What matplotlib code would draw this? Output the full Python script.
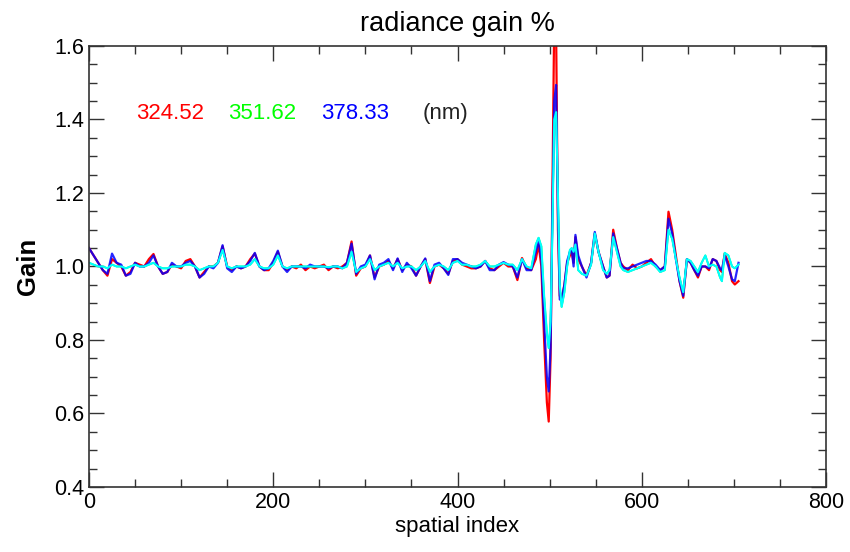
import matplotlib
matplotlib.use("Agg")
import matplotlib.pyplot as plt
from matplotlib.ticker import MultipleLocator

# spatial index samples
spatial_idx = [0, 5, 10, 15, 20, 25, 30, 35, 40, 45, 50, 55, 60, 65, 70, 75, 80, 85, 90, 95,
               100, 105, 110, 115, 120, 125, 130, 135, 140, 145, 150, 155, 160, 165, 170, 175,
               180, 185, 190, 195, 200, 205, 210, 215, 220, 225, 230, 235, 240, 245, 250, 255,
               260, 265, 270, 275, 280, 285, 290, 295, 300, 305, 310, 315, 320, 325, 330, 335,
               340, 345, 350, 355, 360, 365, 370, 375, 380, 385, 390, 395, 400, 405, 410, 415,
               420, 425, 430, 435, 440, 445, 450, 455, 460, 465, 470, 475, 480, 485, 488, 491,
               494, 497, 499, 501, 503, 505, 507, 509, 511, 513, 516, 519, 522, 524, 526, 528,
               531, 535, 540, 545, 549, 553, 558, 562, 565, 569, 573, 577, 580, 585, 590, 595,
               600, 605, 610, 615, 620, 625, 629, 633, 637, 641, 645, 649, 653, 657, 661, 665,
               669, 673, 677, 681, 685, 687, 690, 694, 698, 701, 705]

gain_324 = [1.05, 1.03, 1.01, 0.99, 0.975, 1.02, 1.01, 1.0, 0.975, 0.985, 1.01, 1.005, 1.0, 1.02,
            1.034, 1.0, 0.98, 0.985, 1.005, 1.0, 0.995, 1.015, 1.02, 1.0, 0.97, 0.985, 1.0, 1.0,
            1.01, 1.055, 1.0, 0.99, 1.0, 0.995, 1.0, 1.02, 1.035, 1.0, 0.99, 0.99, 1.01, 1.04,
            1.0, 0.99, 1.0, 0.995, 1.005, 0.99, 1.0, 0.995, 1.0, 1.005, 0.99, 1.0, 0.995, 1.0,
            1.01, 1.068, 0.975, 0.995, 1.0, 1.03, 0.97, 1.0, 1.005, 1.015, 0.995, 1.02, 0.99,
            1.005, 1.0, 0.975, 1.0, 1.02, 0.955, 1.0, 1.005, 0.995, 0.98, 1.015, 1.02, 1.005,
            1.0, 0.995, 0.995, 1.0, 1.015, 0.995, 0.99, 1.0, 1.01, 1.0, 1.0, 0.963, 1.023,
            0.995, 0.99, 1.02, 1.06, 1.0, 0.80, 0.63, 0.578, 0.75, 1.2, 1.68, 1.65, 1.1, 0.92,
            0.91, 0.95, 1.01, 1.03, 1.04, 1.01, 1.08, 1.02, 1.0, 0.975, 1.01, 1.09, 1.04, 1.0,
            0.97, 0.975, 1.10, 1.05, 1.01, 1.0, 0.99, 1.005, 0.995, 1.0, 1.01, 1.02, 1.0, 0.99,
            1.0, 1.149, 1.10, 1.03, 0.96, 0.915, 1.02, 1.01, 0.99, 0.97, 1.0, 1.0, 0.99, 1.02,
            1.015, 0.99, 0.985, 1.035, 1.01, 0.96, 0.951, 0.96]

gain_351 = [1.01, 1.005, 1.0, 1.0, 0.995, 1.005, 1.0, 1.0, 0.995, 1.0, 1.005, 1.0, 1.0, 1.005,
            1.01, 1.0, 0.995, 0.995, 1.0, 1.0, 1.0, 1.005, 1.005, 1.0, 0.99, 0.995, 1.0, 1.0,
            1.01, 1.045, 1.0, 0.995, 1.0, 1.0, 1.0, 1.005, 1.02, 1.0, 0.995, 0.995, 1.005, 1.03,
            1.0, 0.995, 1.0, 1.0, 1.0, 1.0, 1.0, 1.0, 1.0, 1.0, 0.998, 1.0, 1.0, 0.995,
            1.0, 1.04, 0.985, 0.995, 1.0, 1.02, 0.99, 1.0, 1.005, 1.01, 1.0, 1.01, 0.995,
            1.0, 1.0, 0.99, 1.0, 1.015, 0.985, 1.0, 1.005, 1.0, 0.99, 1.01, 1.015, 1.005,
            1.005, 1.0, 1.0, 1.005, 1.015, 1.0, 1.0, 1.005, 1.01, 1.005, 1.005, 0.99, 1.02,
            1.0, 0.995, 1.06, 1.078, 1.055, 0.92, 0.82, 0.778, 0.85, 1.1, 1.40, 1.42, 1.2, 0.95,
            0.89, 0.93, 1.0, 1.045, 1.05, 1.04, 1.06, 0.99, 0.98, 0.975, 1.005, 1.09, 1.04, 0.99,
            0.98, 0.99, 1.08, 1.04, 1.0, 0.99, 0.985, 0.99, 0.995, 1.0, 1.005, 1.01, 1.0, 0.985,
            0.99, 1.10, 1.075, 1.02, 0.97, 0.93, 1.02, 1.015, 1.0, 0.985, 1.01, 1.03, 1.0, 1.005,
            1.0, 0.97, 0.96, 1.037, 1.03, 1.0, 0.995, 1.005]

gain_378 = [1.05, 1.03, 1.01, 0.99, 0.98, 1.035, 1.01, 1.005, 0.975, 0.98, 1.01, 1.0, 1.0, 1.01,
            1.03, 1.0, 0.98, 0.985, 1.01, 1.0, 1.0, 1.01, 1.015, 1.0, 0.97, 0.98, 1.0, 0.995,
            1.01, 1.058, 0.995, 0.985, 1.0, 0.995, 1.0, 1.015, 1.037, 1.0, 0.99, 0.995, 1.015,
            1.043, 1.0, 0.985, 1.0, 1.0, 1.0, 0.995, 1.005, 1.0, 1.0, 1.0, 0.995, 1.0, 1.0,
            0.995, 1.01, 1.062, 0.98, 1.0, 1.005, 1.03, 0.965, 1.005, 1.01, 1.02, 0.99, 1.022,
            0.985, 1.01, 0.995, 0.975, 1.0, 1.022, 0.96, 1.005, 1.01, 0.995, 0.977, 1.02, 1.02,
            1.01, 1.005, 1.0, 0.995, 1.0, 1.015, 0.99, 0.99, 1.005, 1.012, 1.005, 1.0, 0.97,
            1.02, 0.99, 0.99, 1.04, 1.07, 1.02, 0.85, 0.70, 0.66, 0.78, 1.15, 1.45, 1.494, 1.15,
            0.91, 0.91, 0.95, 1.015, 1.04, 1.044, 1.0, 1.086, 1.03, 1.0, 0.97, 1.01, 1.094, 1.04,
            1.0, 0.97, 0.975, 1.09, 1.05, 1.01, 0.995, 0.995, 1.0, 1.005, 1.01, 1.015, 1.015,
            1.005, 0.99, 1.0, 1.13, 1.09, 1.02, 0.96, 0.92, 1.02, 1.01, 0.99, 0.975, 1.0, 1.0,
            0.995, 1.02, 1.015, 0.995, 0.99, 1.03, 1.0, 0.965, 0.96, 1.01]

gain_cyan = [1.01, 1.005, 1.0, 1.0, 0.995, 1.005, 1.0, 1.0, 0.995, 1.0, 1.005, 1.0, 1.0, 1.005,
             1.01, 1.0, 0.995, 0.995, 1.0, 1.0, 1.0, 1.005, 1.005, 1.0, 0.99, 0.995, 1.0, 1.0,
             1.01, 1.045, 1.0, 0.995, 1.0, 1.0, 1.0, 1.005, 1.02, 1.0, 0.995, 0.995, 1.005, 1.03,
             1.0, 0.995, 1.0, 1.0, 1.0, 1.0, 1.0, 1.0, 1.0, 1.0, 0.998, 1.0, 1.0, 0.995,
             1.0, 1.04, 0.985, 0.995, 1.0, 1.02, 0.99, 1.0, 1.005, 1.01, 1.0, 1.01, 0.995,
             1.0, 1.0, 0.99, 1.0, 1.015, 0.985, 1.0, 1.005, 1.0, 0.99, 1.01, 1.015, 1.005,
             1.005, 1.0, 1.0, 1.005, 1.015, 1.0, 1.0, 1.005, 1.01, 1.005, 1.005, 0.99, 1.02,
             1.0, 0.995, 1.06, 1.078, 1.055, 0.92, 0.82, 0.778, 0.85, 1.1, 1.40, 1.42, 1.2, 0.95,
             0.89, 0.93, 1.0, 1.045, 1.05, 1.04, 1.06, 0.99, 0.98, 0.975, 1.005, 1.09, 1.04, 0.99,
             0.98, 0.99, 1.08, 1.04, 1.0, 0.99, 0.985, 0.99, 0.995, 1.0, 1.005, 1.01, 1.0, 0.985,
             0.99, 1.10, 1.075, 1.02, 0.97, 0.93, 1.02, 1.015, 1.0, 0.985, 1.01, 1.03, 1.0, 1.005,
             1.0, 0.97, 0.96, 1.037, 1.03, 1.0, 0.995, 1.005]

wavelengths = ["324.52", "351.62", "378.33"]
line_colors = ["#ff0000", "#00ff00", "#0000ff"]

plt.rcParams['font.family'] = ['Liberation Sans', 'DejaVu Sans']

fig = plt.figure(figsize=(8.5, 5.52), dpi=100)
ax = fig.add_axes([0.1047, 0.1178, 0.8671, 0.7989])

ax.plot(spatial_idx, gain_324, color=line_colors[0], lw=1.6)
ax.plot(spatial_idx, gain_351, color=line_colors[1], lw=1.2)
ax.plot(spatial_idx, gain_378, color=line_colors[2], lw=1.6, alpha=0.85)
ax.plot(spatial_idx, gain_cyan, color="#00ffff", lw=1.5)

ax.set_xlim(0, 800)
ax.set_ylim(0.4, 1.6)
ax.xaxis.set_major_locator(MultipleLocator(200))
ax.xaxis.set_minor_locator(MultipleLocator(50))
ax.yaxis.set_major_locator(MultipleLocator(0.2))
ax.yaxis.set_minor_locator(MultipleLocator(0.05))
ax.yaxis.set_major_formatter(plt.FormatStrFormatter('%.1f'))
ax.tick_params(which='both', direction='in', top=True, right=True, labelsize=15.5,
               color='#333333', width=1.0)
ax.tick_params(which='major', length=11)
ax.tick_params(which='minor', length=6)
for s in ax.spines.values():
    s.set_color('#333333')
    s.set_linewidth(1.2)

ax.set_title("radiance gain %", fontsize=19.5, pad=11)
ax.set_xlabel("spatial index", fontsize=16, labelpad=2)
ax.set_ylabel("Gain", fontsize=18.5, fontweight='bold', labelpad=10)

legend_x = [0.064, 0.189, 0.315]
for lx, txt, col in zip(legend_x, wavelengths, line_colors):
    ax.text(lx, 0.848, txt, color=col, fontsize=16, transform=ax.transAxes, va='center')
ax.text(0.452, 0.848, "(nm)", color='#222222', fontsize=16, transform=ax.transAxes, va='center')

fig.savefig("out.png", dpi=100)
